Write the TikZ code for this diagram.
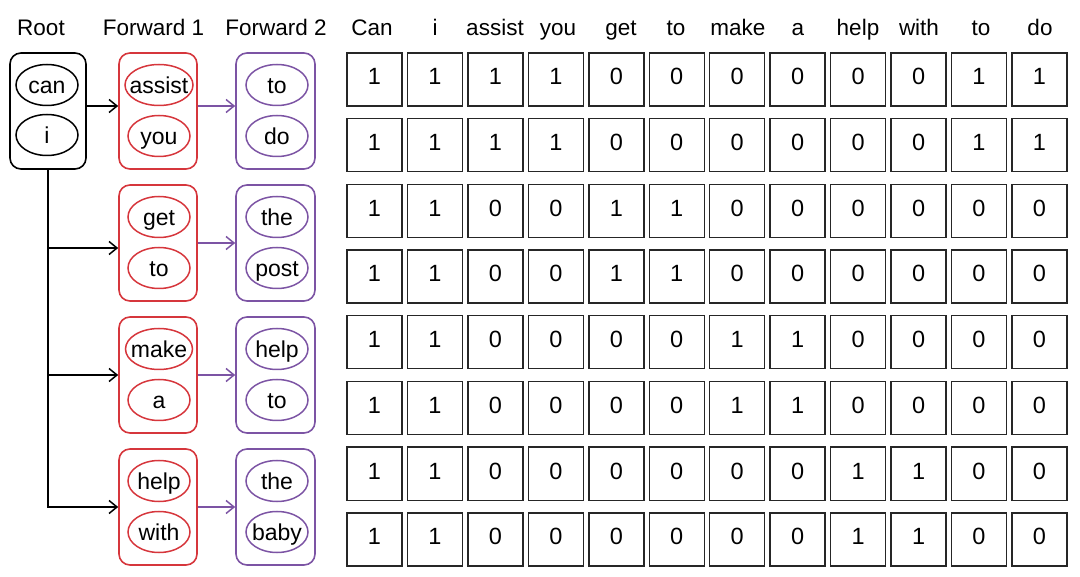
\documentclass[tikz,border=0pt]{standalone}
\usepackage{fontspec}
\setmainfont{Liberation Sans}
\usetikzlibrary{shapes.geometric,arrows.meta}
\definecolor{cred}{RGB}{214,54,60}
\definecolor{cpur}{RGB}{124,84,164}
\newcommand\ctext[1]{\makebox[0pt]{#1}}
\begin{document}
\begin{tikzpicture}[x=1pt,y=-1pt,
 hdr/.style={font=\fontsize{22.5}{26}\selectfont, anchor=base, inner sep=0pt},
 grp/.style={draw, rounded corners=11pt, line width=1.6pt, minimum width=78pt, minimum height=116pt, inner sep=0pt},
 word/.style={ellipse, draw, line width=1.5pt, minimum width=62pt, minimum height=41pt, inner sep=0pt, text height=16.5pt, text depth=0pt, font=\fontsize{23}{26}\selectfont},
 cell/.style={draw=black!85, line width=1.4pt, minimum width=55pt, minimum height=53pt, inner sep=0pt, text height=16.8pt, text depth=6pt, font=\fontsize{23.5}{26}\selectfont},
 arr/.style={line width=1.5pt, -{Straight Barb[length=8pt,width=13pt]}},
]
\useasboundingbox (0,0) rectangle (1080,577);
% headers
\node[hdr] (hroot) at (41,36) {Root};
\node[hdr] (hf1) at (153.5,36) {Forward 1};
\node[hdr] (hf2) at (276,36) {Forward 2};
\foreach \x/\w [count=\i] in {372/Can,435/i,495/assist,558/you,621/get,676/to,738/make,798/a,858/help,919/with,981/to,1040/do}
  \node[hdr] (h\i) at (\x,36) {\w};
% root
\node[grp, minimum width=76pt] (root) at (48,111) {};
\node[word] (rw1) at (47,85) {\ctext{can}};
\node[word] (rw2) at (47,135) {\ctext{i}};
% groups
\foreach \g/\top/\a/\b/\c/\d/\wa in {1/53/assist/you/to/do/68, 2/185/get/to/the/post/62, 3/317/make/a/help/to/67, 4/449/help/with/the/baby/62}{
  \node[grp, draw=cred] (fa\g) at (158,\top+58) {};
  \node[word, draw=cred, minimum width=\wa pt] (fa\g w1) at (159,\top+32) {\ctext{\a}};
  \node[word, draw=cred] (fa\g w2) at (159,\top+83) {\ctext{\b}};
  \node[grp, draw=cpur, minimum width=79pt] (fb\g) at (275.5,\top+58) {};
  \node[word, draw=cpur] (fb\g w1) at (277,\top+32) {\ctext{\c}};
  \node[word, draw=cpur] (fb\g w2) at (277,\top+83) {\ctext{\d}};
}
% connectors
\draw[arr] ([yshift=5pt]root.east) -- ([yshift=5pt]fa1.west);
\draw[arr, cpur] ([yshift=5pt]fa1.east) -- ([yshift=5pt]fb1.west);
\coordinate (b2) at ([yshift=-5pt]fa2.west);
\draw[arr] (root.south |- b2) -- (b2);
\draw[arr] (root.south |- fa3.west) -- (fa3.west);
\draw[arr] (root.south) |- (fa4.west);
\foreach \g in {2,3,4}
  \draw[arr, cpur] (fa\g.east) -- (fb\g.west);
% grid
\foreach \r/\vals in {1/{1,1,1,1,0,0,0,0,0,0,1,1},2/{1,1,1,1,0,0,0,0,0,0,1,1},3/{1,1,0,0,1,1,0,0,0,0,0,0},4/{1,1,0,0,1,1,0,0,0,0,0,0},5/{1,1,0,0,0,0,1,1,0,0,0,0},6/{1,1,0,0,0,0,1,1,0,0,0,0},7/{1,1,0,0,0,0,0,0,1,1,0,0},8/{1,1,0,0,0,0,0,0,1,1,0,0}}{
  \foreach \v [count=\c from 0] in \vals
    \node[cell] (c\r-\c) at ({374.5+60.45*\c},{79.5+65.7*(\r-1)}) {\v};
}
\end{tikzpicture}
\end{document}
